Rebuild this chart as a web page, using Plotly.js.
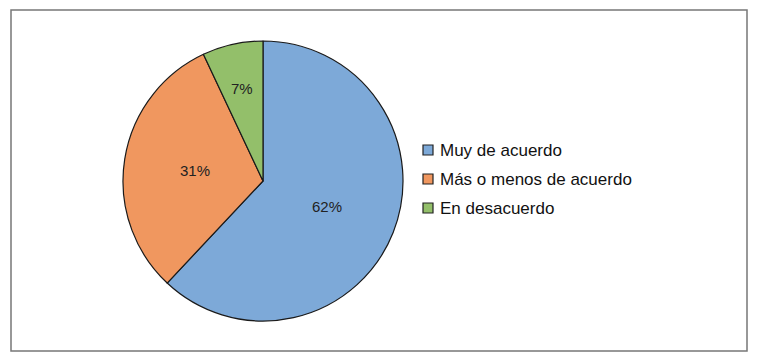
<!DOCTYPE html>
<html><head><meta charset="utf-8">
<script src="https://cdn.plot.ly/plotly-3.0.1.min.js"></script>
<style>html,body{margin:0;padding:0;background:#fff}#chart{width:758px;height:361px}</style>
</head><body><div id="chart"></div>
<script>
var categories = ["Muy de acuerdo", "Más o menos de acuerdo", "En desacuerdo"];
var values = [62, 31, 7];
var colors = ["#7DA9D8", "#F0975F", "#93BF6A"];

var W = 758, H = 361;
var cx = 263, cy = 181, R = 140;
var mt = cy - R, mb = H - (cy + R);
var ph = H - mt - mb;
function px2x(p) { return p / W; }
function py2y(p) { return (H - mb - p) / ph; }

var trace = {
  type: "pie",
  labels: categories,
  values: values,
  sort: false,
  direction: "clockwise",
  rotation: 0,
  marker: {colors: colors, line: {color: "#1a1a1a", width: 1.2}},
  textinfo: "none",
  domain: {x: [(cx - R) / W, (cx + R) / W], y: [0, 1]},
  hoverinfo: "label+percent",
  showlegend: false
};

var shapes = [{
  type: "rect", xref: "paper", yref: "paper",
  x0: px2x(11), x1: px2x(747), y0: py2y(351), y1: py2y(10),
  line: {color: "#777", width: 1.5}
}];
var annotations = [];

// data labels (Excel "best fit": small slices pushed outward)
var total = values.reduce(function (a, b) { return a + b; }, 0);
var cum = 0;
values.forEach(function (v, i) {
  var frac = v / total;
  var mid = (cum + frac / 2) * 2 * Math.PI;
  cum += frac;
  var rf = frac < 0.15 ? 0.68 : 0.49;
  annotations.push({
    xref: "paper", yref: "paper",
    x: px2x(cx + Math.sin(mid) * R * rf),
    y: py2y(cy - Math.cos(mid) * R * rf),
    xanchor: "center", yanchor: "middle", showarrow: false,
    text: Math.round(frac * 100) + "%",
    font: {family: "Liberation Sans, Arial, sans-serif", size: 15, color: "#222"}
  });
});

// legend (Excel style: small bordered squares, 29px rows)
var legTop = 150, legStep = 29;
categories.forEach(function (c, i) {
  var yc = legTop + i * legStep;
  shapes.push({
    type: "rect", xref: "paper", yref: "paper",
    x0: px2x(423), x1: px2x(433), y0: py2y(yc + 5), y1: py2y(yc - 5),
    fillcolor: colors[i], line: {color: "#222", width: 1.2}
  });
  annotations.push({
    xref: "paper", yref: "paper", x: px2x(438), y: py2y(yc),
    xanchor: "left", yanchor: "middle", showarrow: false,
    text: c,
    font: {family: "Liberation Sans, Arial, sans-serif", size: 17, color: "#111"}
  });
});

var layout = {
  width: W, height: H,
  margin: {l: 0, r: 0, t: mt, b: mb, pad: 0},
  paper_bgcolor: "#fff",
  showlegend: false,
  shapes: shapes,
  annotations: annotations
};

Plotly.newPlot("chart", [trace], layout, {staticPlot: true});
</script></body></html>
